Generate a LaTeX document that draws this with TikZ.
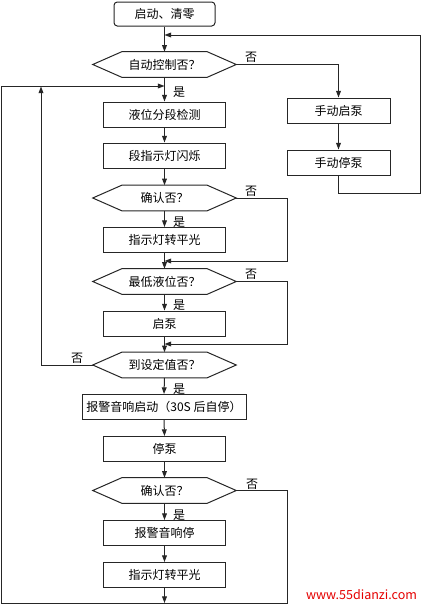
\documentclass[tikz,border=0pt]{standalone}
\usepackage{fontspec}
\setmainfont{Noto Sans CJK SC}
\usetikzlibrary{arrows.meta,calc}
\begin{document}
\begin{tikzpicture}[x=0.75pt,y=-0.75pt,
  line/.style={draw=black!85, line width=0.75pt},
  arr/.style={line, -{Triangle[length=5pt,width=3.6pt]}},
  txt/.style={font=\fontsize{9}{11}\selectfont},
  box/.style={line, txt, rectangle, minimum width=91.5pt, minimum height=18.75pt, inner sep=0pt},
  mbox/.style={box, minimum width=77.25pt},
  wbox/.style={box, minimum width=123pt},
  startbox/.style={box, minimum width=75.75pt, minimum height=18pt, rounded corners=2.5pt},
  dec/.style={txt, minimum width=63.75pt, minimum height=18.75pt, inner sep=0pt},
  lbl/.style={txt, inner sep=0pt}
]
\newcommand\hexa[1]{\draw[line] (#1.north west) -- (#1.north east) -- ($(#1.east)+(29,0)$) coordinate (#1r) -- (#1.south east) -- (#1.south west) -- ($(#1.west)+(-29,0)$) coordinate (#1l) -- cycle;}
\fill[white] (0,0) rectangle (422,607);
\useasboundingbox (0,0) rectangle (422,607);

% nodes
\node[startbox] (start) at (164.5,14) {启动、清零};
\node[dec] (d1) at (164.5,64.5) {自动控制否？}; \hexa{d1}
\node[mbox] (m1) at (338.5,110.5) {手动启泵};
\node[mbox] (m2) at (338.5,162.5) {手动停泵};
\node[box] (b1) at (164.5,114.5) {液位分段检测};
\node[box] (b2) at (164.5,155.5) {段指示灯闪烁};
\node[dec] (d2) at (164.5,198) {确认否？}; \hexa{d2}
\node[box] (b3) at (164.5,240) {指示灯转平光};
\node[dec] (d3) at (164.5,281.5) {最低液位否？}; \hexa{d3}
\node[box] (b4) at (164.5,323.5) {启泵};
\node[dec] (d4) at (164.5,365) {到设定值否？}; \hexa{d4}
\node[wbox] (b5) at (164,407) {报警音响启动（30S 后自停）};
\node[box] (b6) at (164.5,449) {停泵};
\node[dec] (d5) at (164.5,490.5) {确认否？}; \hexa{d5}
\node[box] (b7) at (164.5,533) {报警音响停};
\node[box] (b8) at (164.5,575) {指示灯转平光};

% junction coordinates
\coordinate (j1) at (164.5,35);
\coordinate (j2) at (164.5,86);
\coordinate (j3) at (164.5,603);
\coordinate (j4) at (41,86.5);
\coordinate (j5) at (164.5,261);
\coordinate (j6) at (164.5,344);

% labels
\node[lbl] (n1) at (251,57) {否};
\node[lbl] (n2) at (251,191) {否};
\node[lbl] (n3) at (251,274) {否};
\node[lbl] (n4) at (77,358) {否};
\node[lbl] (n5) at (252,484) {否};
\node[lbl] (y1) at (179,92) {是};
\node[lbl] (y2) at (179,222) {是};
\node[lbl] (y3) at (179,305) {是};
\node[lbl] (y4) at (179,389) {是};
\node[lbl] (y5) at (179,515) {是};
\node[font=\fontsize{9.4}{11}\selectfont, text=red!90!black, inner sep=0pt] (url) at (361.5,595) {www.55dianzi.com};

% main chain
\draw[arr] (start.south) -- (d1.north);
\draw[arr] (d1.south) -- (b1.north);
\draw[arr] (b1.south) -- (b2.north);
\draw[arr] (b2.south) -- (d2.north);
\draw[arr] (d2.south) -- (b3.north);
\draw[arr] (b3.south) -- (d3.north);
\draw[arr] (d3.south) -- (b4.north);
\draw[arr] (b4.south) -- (d4.north);
\draw[arr] (d4.south) -- (b5.north);
\draw[arr] (b5.south) -- (b6.north);
\draw[arr] (b6.south) -- (d5.north);
\draw[arr] (d5.south) -- (b7.north);
\draw[arr] (b7.south) -- (b8.north);
\draw[arr] (b8.south) -- (j3);

% manual branch
\draw[arr] (d1r) -| (m1.north);
\draw[arr] (m1.south) -- (m2.north);
\draw[arr] (m2.south) |- (420,193) |- (j1);

% no-branches
\draw[arr] (d2r) -| (287,261) -- (j5);
\draw[arr] (d3r) -| (287,344) -- (j6);
\draw[arr] (d4l) -| (j4);
\draw[arr] (d5r) -| (287,603) -| (1.5,86) -- (j2);
\end{tikzpicture}
\end{document}
